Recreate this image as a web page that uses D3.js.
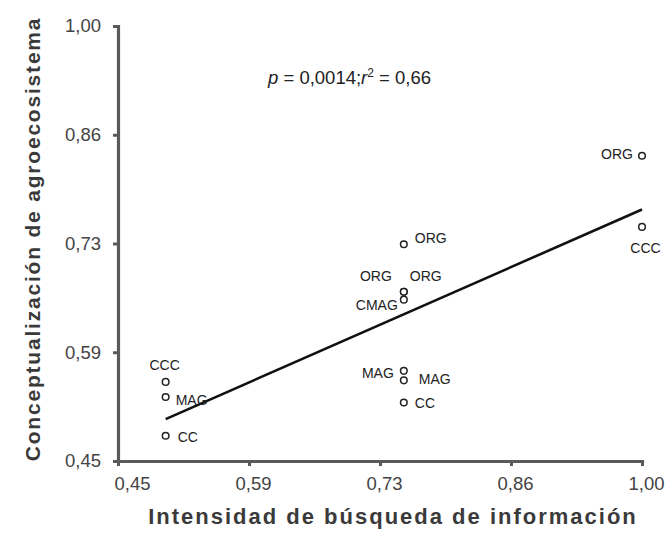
<!DOCTYPE html>
<html>
<head>
<meta charset="utf-8">
<script src="https://cdn.jsdelivr.net/npm/d3@7"></script>
<style>
  html, body { margin: 0; padding: 0; background: #fff; }
  svg { display: block; font-family: "Liberation Sans", Arial, Helvetica, sans-serif; }
</style>
</head>
<body>
<svg id="chart" width="668" height="533"></svg>
<script>
// Intensity of information search (x) vs. agroecosystem conceptualisation (y)
const systemLabels = ["ORG", "CCC", "ORG", "ORG", "ORG", "CMAG", "MAG", "MAG", "CC", "CCC", "MAG", "CC"];
const intensity    = [1.00, 1.00, 0.75, 0.75, 0.75, 0.75, 0.75, 0.75, 0.75, 0.50, 0.50, 0.50];
const concept      = [0.836, 0.746, 0.724, 0.664, 0.664, 0.654, 0.564, 0.552, 0.524, 0.550, 0.531, 0.482];

// Fitted line y = a + b·x over the sampled range
const fitCoef  = [0.238, 0.530];
const fitRange = [0.50, 1.00];

const tickValues = [0.45, 0.5875, 0.725, 0.8625, 1.00];
const tickLabels = ["0,45", "0,59", "0,73", "0,86", "1,00"];

const xTitle = "Intensidad de búsqueda de información";
const yTitle = "Conceptualización de agroecosistema";

const svg = d3.select("#chart");
const x = d3.scaleLinear().domain([0.45, 1.00]).range([118, 642]);
const y = d3.scaleLinear().domain([0.45, 1.00]).range([461, 26]);

const axisColor = "#5a5a5a";
const labelColor = "#444";

// Axes
const xAxis = svg.append("g")
  .attr("transform", `translate(0,${y(0.45)})`)
  .call(d3.axisBottom(x).tickValues(tickValues).tickFormat((d, i) => tickLabels[i])
    .tickSizeInner(5).tickSizeOuter(0).tickPadding(11));
const yAxis = svg.append("g")
  .attr("transform", `translate(${x(0.45)},0)`)
  .call(d3.axisLeft(y).tickValues(tickValues).tickFormat((d, i) => tickLabels[i])
    .tickSizeInner(5).tickSizeOuter(0).tickPadding(12));

[xAxis, yAxis].forEach(g => {
  g.select(".domain").attr("stroke", axisColor).attr("stroke-width", 3.2).attr("stroke-linecap", "square");
  g.selectAll(".tick line").attr("stroke", axisColor).attr("stroke-width", 3);
  g.selectAll(".tick text")
    .attr("fill", labelColor)
    .style("font-size", "18.5px")
    .style("font-family", "'Liberation Sans', Arial, sans-serif");
});
xAxis.selectAll(".tick text").attr("dx", (d, i) => i === 0 ? 14 : 4);

// Regression line
const fit = v => fitCoef[0] + fitCoef[1] * v;
svg.append("line")
  .attr("x1", x(fitRange[0])).attr("y1", y(fit(fitRange[0])))
  .attr("x2", x(fitRange[1])).attr("y2", y(fit(fitRange[1])))
  .attr("stroke", "#111").attr("stroke-width", 2.6);

// Points
const pts = systemLabels.map((s, i) => ({ s, vx: intensity[i], vy: concept[i] }));
svg.append("g").selectAll("circle").data(pts).join("circle")
  .attr("cx", d => x(d.vx)).attr("cy", d => y(d.vy)).attr("r", 3.3)
  .attr("fill", "#fff").attr("stroke", "#222").attr("stroke-width", 1.5);

// Label placement around each point: [dx, dy, anchor]
const placement = [
  [-9, -2, "end"], [3.5, 21, "middle"], [11, -6.5, "start"],
  [-12, -16, "end"], [6, -16, "start"], [-6, 5, "end"],
  [-10, 2, "end"], [15, -1, "start"], [11, 1, "start"],
  [-1, -17, "middle"], [10, 3.5, "start"], [12, 1, "start"]
];
svg.append("g").selectAll("text").data(pts).join("text")
  .attr("x", (d, i) => x(d.vx) + placement[i][0])
  .attr("y", (d, i) => y(d.vy) + placement[i][1])
  .attr("text-anchor", (d, i) => placement[i][2])
  .attr("dominant-baseline", "central")
  .attr("fill", "#222")
  .style("font-size", "14px")
  .text(d => d.s);

// Statistics annotation
const stat = svg.append("text")
  .attr("x", 268).attr("y", 84)
  .attr("fill", "#222")
  .style("font-size", "18.5px");
stat.append("tspan").style("font-style", "italic").text("p");
stat.append("tspan").text(" = 0,0014;");
stat.append("tspan").style("font-style", "italic").text("r");
stat.append("tspan").attr("dy", -7).style("font-size", "12px").text("2");
stat.append("tspan").attr("dy", 7).text(" = 0,66");

// Axis titles
svg.append("text")
  .attr("x", 393).attr("y", 524)
  .attr("text-anchor", "middle")
  .attr("fill", "#3a3a3a")
  .style("font-size", "22px").style("font-weight", "bold")
  .style("letter-spacing", "2px")
  .text(xTitle);
svg.append("text")
  .attr("transform", "translate(40,239) rotate(-90)")
  .attr("text-anchor", "middle")
  .attr("fill", "#3a3a3a")
  .style("font-size", "21px").style("font-weight", "bold")
  .style("letter-spacing", "1.8px")
  .text(yTitle);
</script>
</body>
</html>
